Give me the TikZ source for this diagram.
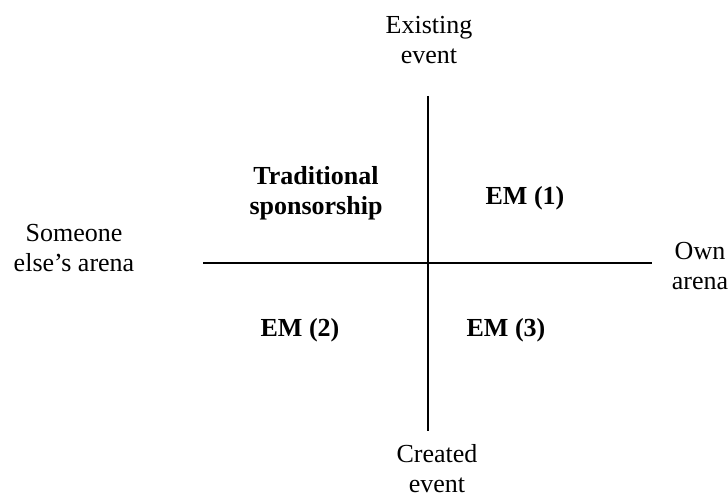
\documentclass[tikz,border=0pt]{standalone}
\usepackage{fontspec}
\setmainfont{Liberation Serif}
\begin{document}
\begin{tikzpicture}[x=1pt,y=1pt,
  lbl/.style={inner sep=0pt,align=center,font=\fontsize{26}{30}\selectfont},
  quad/.style={lbl,font=\fontsize{26}{30}\selectfont\bfseries},
  axis/.style={line width=2.8pt}]
\useasboundingbox (0,0) rectangle (728,497);
\coordinate (vt) at (428,401);
\coordinate (vb) at (428,66);
\coordinate (hl) at (203,234);
\coordinate (hr) at (652,234);
\draw[axis] (vt) -- (vb);
\draw[axis] (hl) -- (hr);
\node[lbl] (top) at (429,457) {Existing\\event};
\node[lbl] (bottom) at (437,28) {Created\\event};
\node[lbl] (left) at (74,249) {Someone\\else’s arena};
\node[lbl] (right) at (700,231) {Own\\arena};
\node[quad] (trad) at (316,304) {Traditional\\sponsorship};
\node[quad] (em1) at (525,299) {EM (1)};
\node[quad] (em2) at (300,167) {EM (2)};
\node[quad] (em3) at (506,167) {EM (3)};
\end{tikzpicture}
\end{document}
